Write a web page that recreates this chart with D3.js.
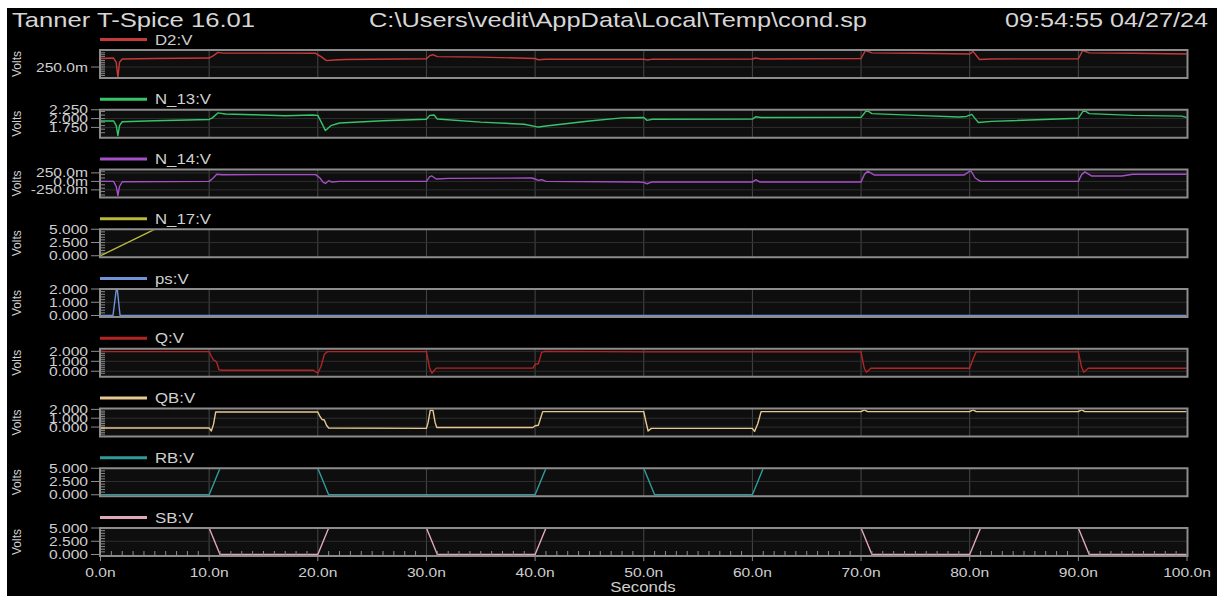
<!DOCTYPE html>
<html><head><meta charset="utf-8">
<script src="https://cdn.jsdelivr.net/npm/d3@7"></script>
<style>html,body{margin:0;padding:0;background:#fff;overflow:hidden}svg{display:block}</style>
</head><body>
<svg id="c" width="1217" height="596"></svg>
<script>
// ---------- data ----------
const headerLeft = "Tanner T-Spice 16.01";
const headerMid = "C:\\Users\\vedit\\AppData\\Local\\Temp\\cond.sp";
const headerRight = "09:54:55 04/27/24";
const xLabel = "Seconds";
const yLabel = "Volts";

const xTickValues = [0,10,20,30,40,50,60,70,80,90,100];
const xTickLabels = ["0.0n","10.0n","20.0n","30.0n","40.0n","50.0n","60.0n","70.0n","80.0n","90.0n","100.0n"];

const seriesNames  = ["D2:V","N_13:V","N_14:V","N_17:V","ps:V","Q:V","QB:V","RB:V","SB:V"];
const seriesColors = ["#c43a3a","#35c46a","#a64fc8","#b8b83a","#6f93d6","#b32424","#e6c890","#2f9c9c","#e3a6b8"];

// y-axis domains (volts) and tick labels per panel
const yDomains = [[0.15,0.43],[1.5,2.25],[-0.43,0.35],[0,5],[0,2],[-0.4,2.26],[-0.9,2.1],[0,5],[0,5]];
const yTickValues = [[0.25],[1.75,2.0,2.25],[-0.25,0,0.25],[0,2.5,5],[0,1,2],[0,1,2],[0,1,2],[0,2.5,5],[0,2.5,5]];
const yTickLabels = [["250.0m"],["1.750","2.000","2.250"],["-250.0m","0.0m","250.0m"],["0.000","2.500","5.000"],
  ["0.000","1.000","2.000"],["0.000","1.000","2.000"],["0.000","1.000","2.000"],["0.000","2.500","5.000"],["0.000","2.500","5.000"]];

// waveforms: [time (ns), volts]
const d2 = [[0,0.34],[1.2,0.345],[1.45,0.30],[1.6,0.14],[1.75,0.30],[2.0,0.335],[5,0.34],[10,0.345],[10.4,0.37],[10.8,0.405],[11.3,0.397],[15,0.397],[19.8,0.395],[20.3,0.36],[20.8,0.318],[21.5,0.325],[22.5,0.33],[30,0.338],[30.3,0.37],[30.6,0.38],[31,0.36],[35,0.355],[40,0.34],[40.3,0.327],[41,0.333],[50,0.333],[50.3,0.325],[50.8,0.333],[60,0.335],[60.3,0.345],[60.8,0.335],[70,0.34],[70.4,0.425],[71,0.40],[75,0.395],[80,0.387],[80.3,0.415],[80.9,0.33],[82,0.335],[90,0.338],[90.4,0.425],[91,0.40],[95,0.395],[100,0.387]];
const n13 = [[0,1.93],[1.2,1.935],[1.45,1.80],[1.6,1.52],[1.75,1.80],[2.0,1.91],[5,1.94],[10,1.975],[10.3,2.02],[10.8,2.16],[11.5,2.13],[14,2.11],[17,2.08],[19.5,2.10],[20,2.09],[20.4,1.85],[20.7,1.66],[21.2,1.80],[22,1.875],[26,1.94],[30,1.98],[30.3,2.09],[30.7,2.10],[31,1.99],[35,1.90],[39,1.84],[40.3,1.76],[41,1.79],[45,1.93],[48,2.02],[50,2.03],[50.3,1.95],[50.8,1.98],[60,1.985],[60.3,2.05],[60.8,2.03],[70,2.035],[70.3,2.15],[70.5,2.24],[71,2.14],[75,2.09],[79,2.045],[79.7,2.06],[80.2,2.12],[80.5,2.0],[80.8,1.89],[82,1.92],[90,2.01],[90.3,2.15],[90.5,2.24],[91,2.14],[95,2.09],[99.5,2.07],[100,2.03]];
const n14 = [[0,0.0],[1.2,0.0],[1.45,-0.15],[1.6,-0.42],[1.75,-0.15],[2.0,-0.01],[10,0.0],[10.3,0.08],[10.7,0.21],[11.2,0.195],[15,0.20],[19.8,0.20],[20.2,0.1],[20.5,-0.03],[20.7,-0.06],[21,0.02],[21.3,-0.02],[22,0.0],[30,0.0],[30.3,0.14],[30.5,0.16],[30.9,0.07],[32,0.09],[39.7,0.10],[40.1,0.06],[40.3,0.03],[40.6,0.05],[41,0.0],[49.5,-0.02],[50,-0.03],[50.3,-0.07],[50.7,-0.02],[60,-0.02],[60.3,0.05],[60.7,-0.02],[70,-0.02],[70.3,0.20],[70.6,0.30],[71.2,0.19],[79.5,0.19],[80.1,0.32],[80.5,0.1],[81,0.0],[90,0.0],[90.3,0.20],[90.6,0.28],[91.2,0.16],[94,0.16],[95,0.21],[100,0.21]];
const n17 = [[0,0],[5.0,5.0],[100,5.0]];
const ps = [[0,0],[1.15,0],[1.45,1.95],[1.55,1.95],[1.8,0],[100,0]];
const q = [[0,1.97],[10,1.97],[10.2,1.5],[10.4,1.15],[10.55,1.05],[10.7,0.9],[10.9,0.15],[11.2,0.1],[19.6,0.1],[20.0,-0.2],[20.3,0.5],[20.6,1.7],[20.9,1.97],[30,1.97],[30.3,0.3],[30.5,-0.2],[30.9,0.32],[39.8,0.32],[40.0,0.7],[40.3,0.75],[40.6,1.9],[40.9,2.0],[50,1.95],[60,1.95],[70,1.95],[70.3,0.3],[70.5,-0.1],[70.9,0.3],[80.0,0.3],[80.3,1.2],[80.6,1.95],[90,1.95],[90.3,0.4],[90.5,-0.1],[90.9,0.3],[100,0.3]];
const qb = [[0,-0.1],[10,-0.1],[10.2,-0.45],[10.4,0.3],[10.6,1.7],[20,1.7],[20.2,1.2],[20.4,0.85],[20.6,0.8],[20.8,0.2],[21.0,-0.1],[30,-0.15],[30.15,0.5],[30.35,1.9],[30.6,1.9],[30.8,0.5],[30.95,-0.05],[39.8,-0.05],[40.0,0.15],[40.3,0.2],[40.7,1.75],[50,1.75],[50.2,0.6],[50.4,-0.45],[50.7,-0.15],[60,-0.15],[60.2,-0.5],[60.5,0.4],[60.8,1.75],[70,1.75],[70.3,1.95],[70.6,1.75],[80,1.75],[80.3,1.95],[80.6,1.75],[90,1.75],[90.3,1.95],[90.6,1.75],[100,1.75]];
const rb = [[0,0],[10,0],[11,5],[20,5],[21,0],[40,0],[41,5],[50,5],[51,0],[60,0],[61,5],[100,5]];
const sb = [[0,5],[10,5],[11,0],[20,0],[21,5],[30,5],[31,0],[40,0],[41,5],[70,5],[71,0],[80,0],[81,5],[90,5],[91,0],[100,0]];

const seriesData = [d2,n13,n14,n17,ps,q,qb,rb,sb];

// ---------- drawing ----------
const W = 1217, H = 596;
const svg = d3.select("#c");
const FONT = "'Liberation Sans', Arial, sans-serif";
const TXT = "#cfcfcf";
const SX = 1.2; // horizontal stretch of the screenshot's text

svg.append("rect").attr("width",W).attr("height",H).attr("fill","#fff");
svg.append("rect").attr("x",7).attr("y",8).attr("width",W-7).attr("height",H-8).attr("fill","#000");

function stext(g, x, y, str, size, anchor, fill) {
  return g.append("text")
    .attr("transform", `translate(${x},${y}) scale(${SX},1)`)
    .attr("text-anchor", anchor)
    .attr("font-family", FONT).attr("font-size", size)
    .attr("fill", fill || TXT).text(str);
}

// header
[[headerLeft, 12, 243],[headerMid, 369, 498],[headerRight, 1005, 203]].forEach(([s,x,w]) => {
  svg.append("text").attr("x",x).attr("y",26.5).attr("font-family",FONT).attr("font-size",21)
    .attr("fill","#d6d6d6").attr("textLength",w).attr("lengthAdjust","spacingAndGlyphs").text(s);
});

const x = d3.scaleLinear().domain([0,100]).range([100.5,1187]);
const FX0 = 100, FX1 = 1187.5, FH = 28;
const panelTop = i => 50 + i*59.75;

const defs = svg.append("defs");

seriesData.forEach((data, i) => {
  const T = panelTop(i);
  const g = svg.append("g");
  const y = d3.scaleLinear().domain(yDomains[i]).range([T+26.5, T]);

  // panel background
  g.append("rect").attr("x",FX0).attr("y",T).attr("width",FX1-FX0).attr("height",FH).attr("fill","#0e0e0e");
  // lower band slightly lighter
  // vertical grid
  g.selectAll(".vg").data(xTickValues.slice(1,-1)).join("line")
    .attr("x1",d=>x(d)).attr("x2",d=>x(d)).attr("y1",T).attr("y2",T+FH)
    .attr("stroke","#474747").attr("stroke-width",1);
  // horizontal grid at interior major ticks
  g.selectAll(".hg").data(yTickValues[i].filter(v => { const p=y(v); return p>T+2 && p<T+FH-3; })).join("line")
    .attr("x1",FX0).attr("x2",FX1).attr("y1",d=>y(d)).attr("y2",d=>y(d))
    .attr("stroke","#2e2e2e").attr("stroke-width",1);
  // minor y ticks inside left edge
  g.selectAll(".my").data(y.ticks(10).filter(v => { const p=y(v); return p>T+1.5 && p<T+FH-1.5; })).join("line")
    .attr("x1",FX0).attr("x2",FX0+5).attr("y1",d=>y(d)).attr("y2",d=>y(d))
    .attr("stroke","#8a8a8a").attr("stroke-width",1);

  // clip + data line
  const cid = "clip"+i;
  defs.append("clipPath").attr("id",cid).append("rect")
    .attr("x",FX0+1).attr("y",T+1).attr("width",FX1-FX0-2).attr("height",FH-2);
  const line = d3.line().x(d=>x(d[0])).y(d=>y(d[1]));
  g.append("path").datum(data).attr("d",line).attr("clip-path",`url(#${cid})`)
    .attr("fill","none").attr("stroke",seriesColors[i]).attr("stroke-width",1.4).attr("stroke-linejoin","round");

  // frame
  g.append("rect").attr("x",FX0).attr("y",T).attr("width",FX1-FX0).attr("height",FH)
    .attr("fill","none").attr("stroke","#8c8c8c").attr("stroke-width",2);

  // major y ticks + labels
  yTickValues[i].forEach((v, k) => {
    g.append("line").attr("x1",91).attr("x2",FX0).attr("y1",y(v)).attr("y2",y(v))
      .attr("stroke","#8c8c8c").attr("stroke-width",1);
    stext(g, 88, y(v)+4.5, yTickLabels[i][k], 13, "end");
  });

  // Volts label
  g.append("text").attr("transform",`translate(21,${T+14}) rotate(-90)`)
    .attr("text-anchor","middle").attr("font-family",FONT).attr("font-size",12)
    .attr("fill",TXT).text(yLabel);

  // legend
  const LY = T - 10.5;
  g.append("line").attr("x1",100).attr("x2",147).attr("y1",LY).attr("y2",LY)
    .attr("stroke",seriesColors[i]).attr("stroke-width",3);
  stext(g, 155, LY+5, seriesNames[i], 14, "start");

  // x-axis on the last panel
  if (i === seriesData.length - 1) {
    const minor = d3.range(1,100).filter(t => t % 10 !== 0);
    g.selectAll(".mx").data(minor).join("line")
      .attr("x1",d=>x(d)).attr("x2",d=>x(d)).attr("y1",T+FH).attr("y2",T+FH-5)
      .attr("stroke","#8c8c8c").attr("stroke-width",1);
    g.selectAll(".Mx").data(xTickValues).join("line")
      .attr("x1",d=>x(d)).attr("x2",d=>x(d)).attr("y1",T+FH).attr("y2",T+FH+5)
      .attr("stroke","#8c8c8c").attr("stroke-width",1);
    xTickValues.forEach((v,k) => stext(g, x(v), 577, xTickLabels[k], 13, "middle"));
    stext(g, 643, 592, xLabel, 14, "middle");
  }
});
</script>
</body></html>
